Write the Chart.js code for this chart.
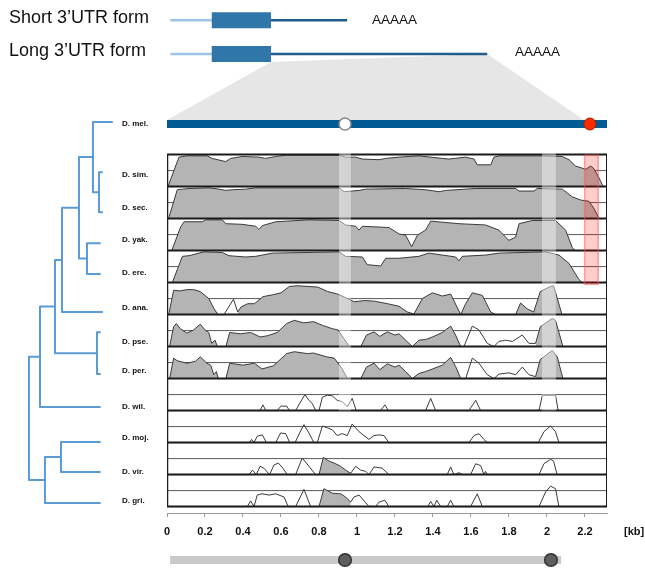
<!DOCTYPE html>
<html>
<head>
<meta charset="utf-8">
<script src="https://cdn.jsdelivr.net/npm/chart.js@4.4.1/dist/chart.umd.min.js"></script>
<style>
body { margin: 0; background: #fff; }
#wrap { position: relative; width: 645px; height: 568px; font-family: 'Liberation Sans', Arial, sans-serif; }
#wrap canvas { position: absolute; left: 0; top: 0; }
.lbl { position: absolute; white-space: nowrap; color: #111; }
</style>
</head>
<body>
<div id="wrap">
  <canvas id="vista" width="645" height="568"></canvas>
  <div class="lbl" style="left:9px;top:7px;font-size:18px;line-height:20px">Short 3’UTR form</div>
  <div class="lbl" style="left:9px;top:40px;font-size:18px;line-height:20px">Long 3’UTR form</div>
  <div class="lbl" style="left:372px;top:12px;font-size:13.5px;line-height:16px">AAAAA</div>
  <div class="lbl" style="left:515px;top:44px;font-size:13.5px;line-height:16px">AAAAA</div>
  <div class="lbl" style="left:624px;top:525px;font-size:11px;line-height:13px;font-weight:bold">[kb]</div>
</div>
<script>
// species shown in the tree (D. mel. is the reference, the other 11 are tracks)
const species = ['D. mel.', 'D. sim.', 'D. sec.', 'D. yak.', 'D. ere.', 'D. ana.',
                 'D. pse.', 'D. per.', 'D. wil.', 'D. moj.', 'D. vir.', 'D. gri.'];
const labelRow = [-0.95, 0.64, 1.67, 2.67, 3.7, 4.8, 5.86, 6.77, 7.89, 8.86, 9.92, 10.83];
const leafRow = [-1.02, 0.55, 1.8, 2.77, 3.73, 4.92, 5.55, 6.86, 7.89, 8.98, 9.92, 10.89];
const leafDepth = [1.17, 1.03, 1.03, 1.0, 1.0, 1.03, 1.0, 1.0, 1.0, 1.0, 1.0, 1.0];
// internal nodes: [depth, child A, child B]; ids start at 12
const treeNodes = [
  [0.986, 1, 2], [0.901, 0, 12], [0.817, 3, 4], [0.704, 13, 14], [0.465, 15, 5],
  [0.958, 6, 7], [0.366, 16, 17], [0.155, 18, 8], [0.451, 9, 10], [0.225, 20, 11],
  [0, 19, 21]
];

const kbTicks = [0, 0.2, 0.4, 0.6, 0.8, 1, 1.2, 1.4, 1.6, 1.8, 2, 2.2];
const kbTickLabels = ['0', '0.2', '0.4', '0.6', '0.8', '1', '1.2', '1.4', '1.6', '1.8', '2', '2.2'];
const KB_MAX = 2.316;

// conservation (%) along the 3'UTR, [kb, percent]
const sim = [[0.005,50],[0.063,96],[0.107,98],[0.212,98],[0.238,94],[0.309,89],[0.335,94],[0.396,97],[0.484,96],[0.519,94],[0.572,97],[0.625,99],[0.905,99],[0.94,96],[0.993,96],[1.028,93],[1.116,92],[1.151,94],[1.221,96],[1.326,98],[1.449,94],[1.484,93],[1.572,96],[1.616,93],[1.633,84],[1.704,84],[1.721,96],[1.747,98],[1.975,98],[2.081,97],[2.116,92],[2.151,82],[2.204,77],[2.23,82],[2.244,79],[2.27,66],[2.291,53],[2.3,50]];
const sec = [[0.008,50],[0.054,95],[0.081,96],[0.116,97],[0.221,98],[0.274,96],[0.309,94],[0.344,95],[0.414,96],[0.467,98],[0.905,98],[0.932,92],[1.011,94],[1.046,96],[1.256,97],[1.361,95],[1.432,92],[1.467,94],[1.625,97],[1.835,97],[1.853,93],[1.932,93],[1.949,97],[2.081,96],[2.133,84],[2.177,79],[2.221,77],[2.247,66],[2.274,50]];
const yak = [[0.025,50],[0.072,87],[0.09,95],[0.186,95],[0.204,98],[0.291,98],[0.309,92],[0.396,91],[0.467,88],[0.484,83],[0.502,89],[0.572,95],[0.747,98],[0.905,97],[0.94,90],[0.993,88],[1.011,82],[1.028,88],[1.168,86],[1.221,76],[1.256,74],[1.288,56],[1.318,74],[1.361,82],[1.388,96],[1.537,92],[1.677,90],[1.747,82],[1.782,71],[1.8,66],[1.835,71],[1.853,92],[1.923,97],[2.045,97],[2.098,82],[2.133,55],[2.147,50],[2.311,50]];
const ere = [[0.028,50],[0.081,91],[0.116,92],[0.195,98],[0.291,97],[0.326,92],[0.414,90],[0.467,91],[0.554,96],[0.905,98],[0.94,91],[1.028,90],[1.054,78],[1.125,76],[1.151,88],[1.221,88],[1.326,91],[1.379,96],[1.519,90],[1.537,84],[1.554,91],[1.677,93],[1.747,96],[1.993,98],[2.063,93],[2.116,80],[2.168,55],[2.186,50],[2.311,50]];
const ana = [[0.009,50],[0.035,88],[0.07,87],[0.105,89],[0.14,89],[0.175,86],[0.22,75],[0.246,60],[0.268,50],[0.3,50],[0.35,74],[0.372,54],[0.39,62],[0.425,67],[0.46,67],[0.505,78],[0.557,81],[0.6,84],[0.644,94],[0.688,95],[0.793,93],[0.846,86],[0.898,82],[0.951,75],[0.986,70],[1.039,72],[1.091,71],[1.161,67],[1.221,63],[1.265,54],[1.3,51],[1.344,75],[1.397,84],[1.449,79],[1.493,82],[1.546,50],[1.572,67],[1.607,84],[1.66,80],[1.704,54],[1.73,50],[1.835,50],[1.861,68],[1.896,59],[1.93,54],[1.965,86],[2.018,94],[2.035,95],[2.079,50],[2.311,50]];
const pse = [[0.0135,50],[0.035,81],[0.049,86],[0.07,78],[0.105,71],[0.14,76],[0.175,85],[0.2,76],[0.22,72],[0.235,55],[0.253,60],[0.265,50],[0.31,50],[0.33,72],[0.386,70],[0.44,72],[0.49,65],[0.53,67],[0.58,72],[0.63,86],[0.67,91],[0.72,87],[0.77,89],[0.82,83],[0.87,78],[0.9,76],[0.93,63],[0.96,50],[1.02,50],[1.05,68],[1.09,73],[1.12,66],[1.16,73],[1.2,68],[1.221,70],[1.256,60],[1.291,50],[1.326,60],[1.361,61],[1.397,65],[1.449,72],[1.493,82],[1.519,68],[1.546,50],[1.563,50],[1.607,82],[1.642,76],[1.686,55],[1.721,50],[1.747,58],[1.782,60],[1.818,58],[1.87,68],[1.905,55],[1.94,55],[1.965,81],[2.028,94],[2.045,91],[2.084,50],[2.311,50]];
const per = [[0.0135,50],[0.035,82],[0.053,78],[0.105,74],[0.15,77],[0.175,84],[0.21,74],[0.23,71],[0.246,56],[0.26,61],[0.27,50],[0.31,50],[0.33,74],[0.4,71],[0.46,74],[0.5,65],[0.56,70],[0.63,89],[0.67,92],[0.74,89],[0.77,90],[0.84,84],[0.88,82],[0.92,66],[0.95,50],[1.02,50],[1.05,68],[1.09,74],[1.12,64],[1.16,73],[1.2,68],[1.221,71],[1.256,61],[1.291,50],[1.326,58],[1.361,61],[1.397,65],[1.449,71],[1.493,83],[1.519,69],[1.546,50],[1.572,50],[1.607,82],[1.642,74],[1.686,56],[1.721,50],[1.747,57],[1.8,59],[1.835,56],[1.87,68],[1.905,56],[1.94,53],[1.965,80],[2.028,94],[2.054,84],[2.084,50],[2.311,50]];
const wil = [[0,50],[0.49,50],[0.505,59],[0.52,50],[0.58,50],[0.6,57],[0.63,57],[0.645,50],[0.677,50],[0.704,64],[0.726,75],[0.747,66],[0.765,61],[0.782,50],[0.8,50],[0.818,71],[0.844,74],[0.87,73],[0.896,66],[0.922,64],[0.949,56],[0.975,69],[0.996,50],[1.124,50],[1.147,59],[1.165,50],[1.361,50],[1.388,69],[1.414,50],[1.589,50],[1.625,66],[1.651,50],[1.958,50],[1.975,73],[1.993,74],[2.045,74],[2.059,50],[2.311,50]];
const moj = [[0,50],[0.432,50],[0.446,55],[0.458,50],[0.475,60],[0.502,62],[0.523,50],[0.572,50],[0.598,65],[0.625,64],[0.646,50],[0.674,50],[0.698,65],[0.721,78],[0.747,65],[0.773,50],[0.791,50],[0.818,76],[0.844,73],[0.87,70],[0.896,61],[0.922,64],[0.949,61],[0.975,79],[1.011,67],[1.037,61],[1.063,55],[1.089,61],[1.116,62],[1.142,61],[1.168,50],[1.589,50],[1.616,61],[1.642,64],[1.668,55],[1.686,50],[1.954,50],[1.984,67],[2.019,76],[2.045,67],[2.063,50],[2.311,50]];
const vir = [[0,50],[0.432,50],[0.45,57],[0.47,50],[0.49,63],[0.51,60],[0.54,50],[0.563,65],[0.586,68],[0.61,60],[0.633,50],[0.677,50],[0.712,76],[0.747,63],[0.782,50],[0.8,50],[0.823,77],[0.853,71],[0.88,68],[0.914,63],[0.94,57],[0.967,52],[0.993,63],[1.019,57],[1.046,55],[1.063,50],[1.09,62],[1.133,60],[1.168,50],[1.475,50],[1.493,62],[1.51,50],[1.537,53],[1.554,50],[1.598,50],[1.625,67],[1.651,64],[1.668,50],[1.677,55],[1.686,50],[1.958,50],[1.984,67],[2.019,74],[2.035,71],[2.053,50],[2.311,50]];
const gri = [[0,50],[0.423,50],[0.44,59],[0.458,50],[0.475,68],[0.5,70],[0.537,68],[0.572,70],[0.616,65],[0.638,50],[0.677,50],[0.721,77],[0.756,50],[0.8,50],[0.826,78],[0.87,71],[0.914,70],[0.94,65],[0.967,57],[0.984,65],[1.011,68],[1.046,56],[1.063,50],[1.098,50],[1.116,57],[1.147,60],[1.168,50],[1.372,50],[1.388,58],[1.405,50],[1.42,60],[1.44,50],[1.475,50],[1.493,60],[1.51,50],[1.598,50],[1.633,70],[1.66,50],[1.958,50],[1.993,73],[2.019,82],[2.045,78],[2.063,50],[2.311,50]];
const tracks = [sim, sec, yak, ere, ana, pse, per, wil, moj, vir, gri];

// conserved (shaded) stretches per track, [from kb, to kb]
const shaded = [
  [[0, 2.32]], [[0, 2.32]], [[0, 2.32]], [[0, 2.32]],
  [[0, 0.27], [0.37, 1.73], [1.83, 2.08]],
  [[0, 0.265], [0.31, 0.96], [1.02, 1.546], [1.94, 2.084]],
  [[0, 0.27], [0.31, 0.95], [1.02, 1.546], [1.94, 2.084]],
  [], [], [[0.8, 0.967]], [[0.8, 0.967]]
];

const stripes = [[0.905, 0.968], [1.974, 2.047]];
const redZone = [2.198, 2.27];
const whiteMark = 0.937;
const redMark = 2.226;
const sliderRange = [0.016, 2.074];
const sliderKnobs = [0.937, 2.021];

// gene model (kb relative to the stop codon)
const utr5 = [-1.07, -0.63];
const cds = [-0.63, 0];
const shortEnd = 0.81;
const longEnd = 2.30;

// vertical positions in row units
const Y_TOP = -4.83, Y_BOTTOM = 11.2;
const SHORT_Y = -4.2, LONG_Y = -3.14, MEL_Y = -0.955, SLIDER_Y = 12.67;

const datasets = [];
function add(data, opts) {
  datasets.push(Object.assign({ data: data, pointRadius: 0, borderWidth: 1, fill: false, tension: 0 }, opts));
}
const seg = (a, b, y) => [{ x: a, y: y }, { x: b, y: y }];
const rowY = (i, p) => i + (100 - p) / 50;
const inside = (x, list) => list.some(r => x >= r[0] && x <= r[1]);

// tracks: outline + shaded fill
tracks.forEach((t, i) => {
  add(t.map(d => ({ x: d[0], y: rowY(i, d[1]) })), { borderColor: '#3a3a3a', borderWidth: 1, order: 3 });
  if (shaded[i].length) {
    add(t.map(d => ({ x: d[0], y: inside(d[0], shaded[i]) ? rowY(i, d[1]) : null })), {
      borderColor: 'rgba(0,0,0,0)', borderWidth: 0, backgroundColor: '#b4b4b4',
      fill: { value: i + 1 }, order: 4
    });
  }
});

// row grid: 75% mid lines under the fill, row edges on top
for (let i = 0; i < 11; i++) add(seg(0, KB_MAX, i + 0.5), { borderColor: '#5a5a5a', borderWidth: 1, order: 6 });
for (let i = 0; i <= 11; i++) add(seg(0, KB_MAX, i), { borderColor: '#1a1a1a', borderWidth: 2, order: 2 });
add([{ x: 0, y: 0 }, { x: 0, y: 11 }], { borderColor: '#1a1a1a', borderWidth: 2.5, order: 2 });
add([{ x: KB_MAX, y: 0 }, { x: KB_MAX, y: 11 }], { borderColor: '#1a1a1a', borderWidth: 2, order: 2 });

// highlighted windows
stripes.forEach(s => add(seg(s[0], s[1], -0.05), {
  borderColor: 'rgba(0,0,0,0)', borderWidth: 0, backgroundColor: 'rgba(255,255,255,0.42)', fill: { value: 8.0 }, order: 1
}));
add(seg(redZone[0], redZone[1], 0.02), {
  borderColor: 'rgba(0,0,0,0)', borderWidth: 0, backgroundColor: 'rgba(255,0,0,0.2)', fill: { value: 4.05 }, order: 1
});
add([{ x: redZone[0], y: 0.02 }, { x: redZone[1], y: 0.02 }, { x: redZone[1], y: 4.05 }, { x: redZone[0], y: 4.05 }, { x: redZone[0], y: 0.02 }],
  { borderColor: 'rgba(255,90,90,0.55)', borderWidth: 1.5, order: 1 });

// D. mel. reference bar and marks
add(seg(0, KB_MAX, MEL_Y), { borderColor: '#005a94', borderWidth: 8, borderCapStyle: 'butt', order: 2 });
add([{ x: whiteMark, y: MEL_Y }], { showLine: false, pointRadius: 6, pointBackgroundColor: '#fff', pointBorderColor: '#8a8a8a', pointBorderWidth: 1.5, order: 1 });
add([{ x: redMark, y: MEL_Y }], { showLine: false, pointRadius: 6, pointBackgroundColor: '#ff2a00', pointBorderColor: '#a82000', pointBorderWidth: 1, order: 1 });

// gene models
[SHORT_Y, LONG_Y].forEach((y, k) => {
  const end = k === 0 ? shortEnd : longEnd;
  add(seg(utr5[0], utr5[1], y), { xAxisID: 'xg', borderColor: '#9dc3e6', borderWidth: 2.5, order: 2 });
  add(seg(0, end, y), { xAxisID: 'xg', borderColor: '#1f5d8c', borderWidth: 2.5, order: 2 });
  add(seg(cds[0], cds[1], y), { xAxisID: 'xg', borderColor: '#2f76a9', borderWidth: 16, borderCapStyle: 'butt', order: 1 });
});

// slider under the axis (knobs as round-capped stubs, since points outside the area are not drawn)
add(seg(sliderRange[0], sliderRange[1], SLIDER_Y), { borderColor: '#c9c9c9', borderWidth: 8, borderCapStyle: 'butt', clip: false, order: 3 });
sliderKnobs.forEach(k => {
  add(seg(k - 0.0005, k + 0.0005, SLIDER_Y), { borderColor: '#333', borderWidth: 14, borderCapStyle: 'round', clip: false, order: 2 });
  add(seg(k - 0.0005, k + 0.0005, SLIDER_Y), { borderColor: '#5e5e5e', borderWidth: 11, borderCapStyle: 'round', clip: false, order: 1 });
});

// phylogeny (elbow per internal node)
const nodeRow = leafRow.slice();
const nodeDepth = leafDepth.slice();
treeNodes.forEach(n => {
  const [d, a, b] = n;
  nodeRow.push((nodeRow[a] + nodeRow[b]) / 2);
  nodeDepth.push(d);
  add([{ x: nodeDepth[a], y: nodeRow[a] }, { x: d, y: nodeRow[a] }, { x: d, y: nodeRow[b] }, { x: nodeDepth[b], y: nodeRow[b] }], {
    xAxisID: 'xt', borderColor: '#5b9bd5', borderWidth: 2, borderJoinStyle: 'round', borderCapStyle: 'round', clip: false, order: 1
  });
});

// grey wedge linking the long 3'UTR to the D. mel. bar
const zoomWedge = {
  id: 'zoomWedge',
  beforeDatasetsDraw(chart) {
    const { ctx, scales } = chart;
    ctx.save();
    ctx.fillStyle = '#e6e6e6';
    ctx.beginPath();
    ctx.moveTo(scales.xg.getPixelForValue(0), scales.y.getPixelForValue(LONG_Y + 0.25));
    ctx.lineTo(scales.xg.getPixelForValue(longEnd), scales.y.getPixelForValue(LONG_Y));
    ctx.lineTo(scales.x.getPixelForValue(redMark), scales.y.getPixelForValue(MEL_Y));
    ctx.lineTo(scales.x.getPixelForValue(0), scales.y.getPixelForValue(MEL_Y - 0.125));
    ctx.closePath();
    ctx.fill();
    ctx.restore();
  }
};

Chart.defaults.font.family = "'Liberation Sans', Arial, sans-serif";

new Chart(document.getElementById('vista').getContext('2d'), {
  type: 'line',
  data: { datasets: datasets },
  plugins: [zoomWedge],
  options: {
    responsive: false,
    animation: false,
    events: [],
    layout: { autoPadding: false, padding: { left: 122, right: 38, top: 0, bottom: 25 } },
    plugins: { legend: { display: false }, tooltip: { enabled: false } },
    scales: {
      x: {
        type: 'linear', min: 0, max: KB_MAX, position: 'bottom',
        afterBuildTicks: s => { s.ticks = kbTicks.map(v => ({ value: v })); },
        afterFit: s => { s.height = 30; s.paddingLeft = 0; s.paddingRight = 0; },
        ticks: {
          callback: (v, i) => kbTickLabels[i],
          font: { weight: 'bold', size: 11 }, color: '#111', padding: 8, maxRotation: 0, autoSkip: false
        },
        grid: { drawOnChartArea: false, drawTicks: true, tickLength: 4, color: '#999' },
        border: { color: '#999', width: 1 }
      },
      xg: { type: 'linear', display: false, min: -1.106, max: 3.574 },
      xt: { type: 'linear', display: false, min: 1.944, max: 8.141 },
      y: {
        type: 'linear', min: Y_TOP, max: Y_BOTTOM, reverse: true, position: 'left',
        afterBuildTicks: s => { s.ticks = labelRow.map(v => ({ value: v })); },
        afterFit: s => { s.width = 45; s.paddingTop = 0; s.paddingBottom = 0; },
        ticks: {
          callback: (v, i) => species[i],
          crossAlign: 'far', padding: 0, autoSkip: false,
          font: { weight: 'bold', size: 8 }, color: '#111'
        },
        grid: { display: false },
        border: { display: false }
      }
    }
  }
});
</script>
</body>
</html>
